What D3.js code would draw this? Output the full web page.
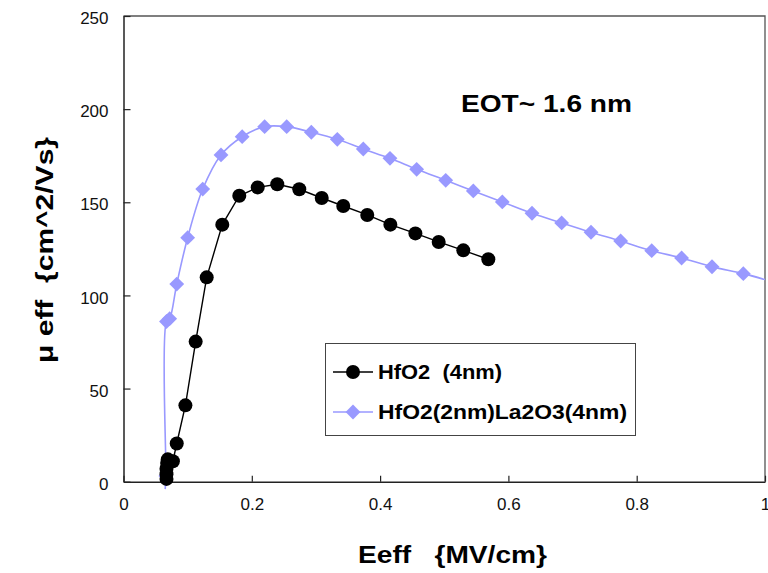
<!DOCTYPE html>
<html>
<head>
<meta charset="utf-8">
<script src="https://cdn.jsdelivr.net/npm/d3@7"></script>
<style>
  body { margin: 0; background: #fff; }
  svg { display: block; font-family: "Liberation Sans", Arial, sans-serif; }
</style>
</head>
<body>
<script>
// HfO2 (4nm) : Eeff (MV/cm) vs mobility (cm^2/Vs)
var hfoX = [0.067, 0.067, 0.067, 0.068, 0.069, 0.077, 0.083, 0.0965, 0.1125, 0.1297, 0.154, 0.1805,
            0.2092, 0.2397, 0.274, 0.309, 0.3426, 0.380, 0.416, 0.455, 0.4913, 0.5297, 0.5687];
var hfoY = [1.5, 4, 7, 10, 12, 11, 20.5, 41, 75.2, 109.7, 138, 153.5,
            158, 159.7, 157, 152.3, 148, 143.2, 138, 133.3, 128.7, 124.2, 119.4];

// HfO2(2nm)La2O3(4nm)
var laX = [0.065, 0.066, 0.067, 0.072, 0.083, 0.100, 0.1235, 0.152, 0.185, 0.220, 0.2544, 0.2928,
           0.3333, 0.3738, 0.4154, 0.457, 0.5023, 0.5453, 0.5905, 0.6368, 0.683, 0.7288, 0.775,
           0.8234, 0.870, 0.9174, 0.9662, 1.0];
var laY = [-4, 3, 86, 87.5, 106.1, 131, 157.1, 175.4, 185.2, 190.6, 190.6, 187.6,
           183.8, 178.6, 173.6, 167.7, 161.8, 156.1, 150.2, 144.1, 138.9, 133.9, 129.2,
           124, 120.1, 115.4, 111.7, 108.5];
var laMarked = laX.map(function(d, i) { return i < laX.length - 1; });

var xTicks = [0, 0.2, 0.4, 0.6, 0.8, 1];
var yTicks = [0, 50, 100, 150, 200, 250];
var seriesNames = ["HfO2  (4nm)", "HfO2(2nm)La2O3(4nm)"];

var width = 768, height = 573;
var blue = "#9999ff";

var x = d3.scaleLinear().domain([0, 1]).range([123.5, 765]);
var y = d3.scaleLinear().domain([0, 250]).range([481.7, 16]);

var svg = d3.select("body").append("svg")
    .attr("width", width)
    .attr("height", height);

svg.append("rect").attr("width", width).attr("height", height).attr("fill", "#fff");

// frame (top + right)
svg.append("path")
    .attr("d", "M" + x(0) + "," + y(250) + "H" + x(1) + "V" + y(0))
    .attr("fill", "none")
    .attr("stroke", "#555")
    .attr("stroke-width", 1.3);

var xAxis = svg.append("g")
    .attr("transform", "translate(0," + y(0) + ")")
    .call(d3.axisBottom(x).tickValues(xTicks).tickSize(-6).tickSizeOuter(0)
        .tickPadding(16).tickFormat(function(d) { return String(d); }));

var yAxis = svg.append("g")
    .attr("transform", "translate(" + x(0) + ",0)")
    .call(d3.axisLeft(y).tickValues(yTicks).tickSize(-7).tickSizeOuter(0)
        .tickPadding(15));

[xAxis, yAxis].forEach(function(a) {
    a.select(".domain").attr("stroke", "#222").attr("stroke-width", 1.5);
    a.selectAll(".tick line").attr("stroke", "#222").attr("stroke-width", 1.2);
    a.selectAll(".tick text").attr("fill", "#111").style("font-size", "17px")
        .style("font-family", "'Liberation Sans', Arial, sans-serif");
});
yAxis.selectAll(".tick text").attr("dy", "0.45em");

// clip for markers
svg.append("clipPath").attr("id", "plotclip")
    .append("rect").attr("x", 0).attr("y", y(250) - 10)
    .attr("width", width).attr("height", y(0) - y(250) + 10);

var laData = laX.map(function(d, i) { return {x: d, y: laY[i], m: laMarked[i]}; });
var hfoData = hfoX.map(function(d, i) { return {x: d, y: hfoY[i]}; });

var line = d3.line().x(function(d) { return x(d.x); }).y(function(d) { return y(d.y); });

svg.append("path")
    .datum(laData)
    .attr("d", line.curve(d3.curveCatmullRom.alpha(0.5)))
    .attr("fill", "none")
    .attr("stroke", blue)
    .attr("stroke-width", 1.6);

var diamond = d3.symbol().type(d3.symbolDiamond2).size(140);

svg.append("g").attr("clip-path", "url(#plotclip)")
    .selectAll("path")
    .data(laData.filter(function(d) { return d.m; }))
    .enter().append("path")
    .attr("d", diamond)
    .attr("transform", function(d) { return "translate(" + x(d.x) + "," + y(d.y) + ")"; })
    .attr("fill", blue);

svg.append("path")
    .datum(hfoData)
    .attr("d", line.curve(d3.curveLinear))
    .attr("fill", "none")
    .attr("stroke", "#000")
    .attr("stroke-width", 1.4);

svg.append("g")
    .selectAll("circle")
    .data(hfoData)
    .enter().append("circle")
    .attr("cx", function(d) { return x(d.x); })
    .attr("cy", function(d) { return y(d.y); })
    .attr("r", 7)
    .attr("fill", "#000");

// annotation
svg.append("text")
    .attr("x", 461).attr("y", 112)
    .attr("textLength", 171).attr("lengthAdjust", "spacingAndGlyphs")
    .style("font-size", "24px").style("font-weight", "bold")
    .text("EOT~ 1.6 nm");

// axis titles
svg.append("text")
    .attr("x", 358).attr("y", 563)
    .attr("textLength", 189).attr("lengthAdjust", "spacingAndGlyphs")
    .style("font-size", "24px").style("font-weight", "bold")
    .style("white-space", "pre")
    .text("Eeff   {MV/cm}");

svg.append("text")
    .attr("transform", "translate(53,363) rotate(-90)")
    .attr("textLength", 226).attr("lengthAdjust", "spacingAndGlyphs")
    .style("font-size", "24px").style("font-weight", "bold")
    .style("white-space", "pre")
    .text("\u03bc eff  {cm^2/Vs}");

// legend
var legend = svg.append("g");
legend.append("rect")
    .attr("x", 325.5).attr("y", 343.5).attr("width", 310).attr("height", 92)
    .attr("fill", "#fff").attr("stroke", "#444").attr("stroke-width", 1);

var rows = [372, 412];
var legColors = ["#000", blue];
seriesNames.forEach(function(name, i) {
    var g = legend.append("g").attr("transform", "translate(0," + rows[i] + ")");
    g.append("line").attr("x1", 333).attr("x2", 373)
        .attr("stroke", legColors[i]).attr("stroke-width", 1.5);
    if (i === 0) {
        g.append("circle").attr("cx", 353).attr("r", 7).attr("fill", "#000");
    } else {
        g.append("path").attr("d", diamond).attr("transform", "translate(353,0)").attr("fill", blue);
    }
    g.append("text")
        .attr("x", 378).attr("y", 7)
        .attr("textLength", i === 0 ? 124 : 249).attr("lengthAdjust", "spacingAndGlyphs")
        .style("font-size", "20px").style("font-weight", "bold")
        .style("white-space", "pre")
        .text(name);
});
</script>
</body>
</html>
